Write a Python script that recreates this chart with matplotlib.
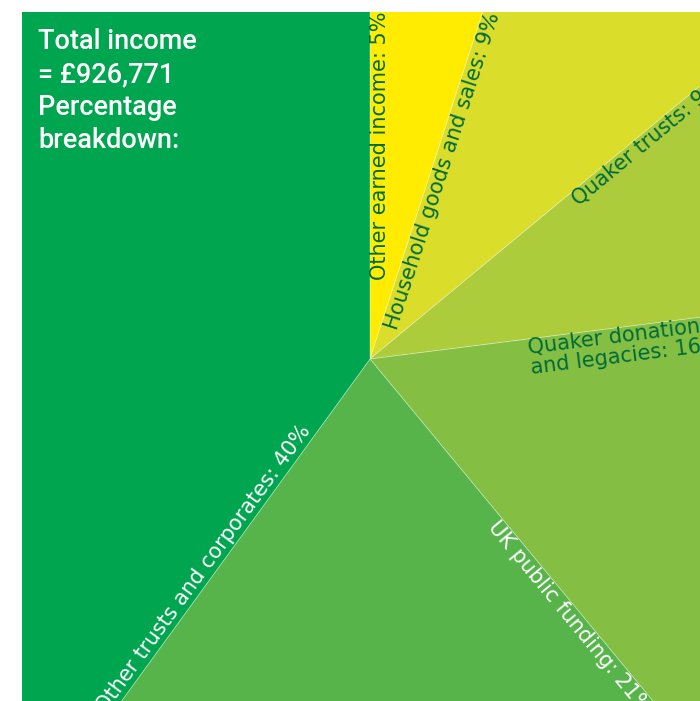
import numpy as np
import matplotlib
matplotlib.use("Agg")
import matplotlib.pyplot as plt

# income breakdown, clockwise from 12 o'clock
categories = ["Other earned income", "Household goods and sales", "Quaker trusts",
              "Quaker donations\nand legacies", "UK public funding",
              "Other trusts and corporates"]
values = [5, 9, 9, 16, 21, 40]
colors = ["#FFEC00", "#DADE2A", "#ACCC3B", "#84BF43", "#56B44A", "#00A64F"]
text_colors = ["#006B3A", "#006B3A", "#006B3A", "#006B3A", "white", "white"]
title = "Total income\n= £926,771\nPercentage\nbreakdown:"

# label placement: distance along the slice's start edge, offset into the slice
label_r = [79, 35, 258, 158, 205, 92]
label_off = [10, 11, 9, 19, 11, 11]

fig = plt.figure(figsize=(7, 7.01), dpi=100)
ax = fig.add_axes([22 / 700, 0, 678 / 700, 689 / 701])

cx, cy = 370, 342
wedges, _ = ax.pie(values, colors=colors, radius=1200, center=(cx, cy),
                   startangle=90, counterclock=False,
                   wedgeprops=dict(linewidth=0.6, edgecolor=(1, 1, 1, 0.35)))
for w in wedges:
    w.set_clip_on(True)
    w.set_clip_box(ax.bbox)
ax.set_xlim(22, 700)
ax.set_ylim(0, 689)
ax.set_aspect("equal")
ax.axis("off")

cum = np.concatenate([[0], np.cumsum(values)]) / sum(values)
for i, lab in enumerate(categories):
    theta = 90 - 360 * cum[i]
    t = np.radians(theta)
    r, off = label_r[i], label_off[i]
    x = cx + r * np.cos(t) + off * np.sin(t)
    y = cy + r * np.sin(t) - off * np.cos(t)
    txt = f"{lab}: {values[i]}%"
    if i == len(categories) - 1:
        ax.text(x, y, txt, rotation=theta + 180, rotation_mode="anchor",
                ha="right", va="center", fontsize=15, color=text_colors[i],
                clip_on=True)
    else:
        ax.text(x, y, txt, rotation=theta, rotation_mode="anchor",
                ha="left", va="center", fontsize=15, color=text_colors[i],
                linespacing=1.05, clip_on=True)

ax.text(38, 673, title, ha="left", va="top", fontsize=19.5, color="white",
        family="Roboto", fontweight="medium", linespacing=1.28)

fig.savefig("out.png", dpi=100)
